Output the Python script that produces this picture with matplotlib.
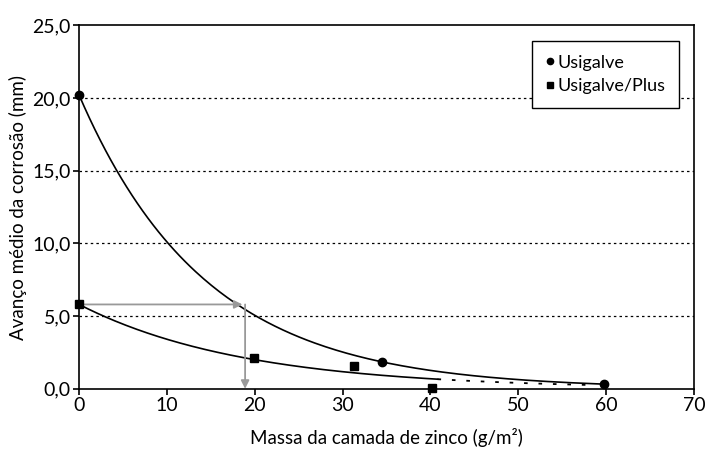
import numpy as np
import matplotlib.pyplot as plt

plt.rcParams['font.family'] = ['Lato', 'DejaVu Sans']

# pontos medidos
x_usigalve = [0, 34.5, 59.7]
y_usigalve = [20.2, 1.85, 0.32]
x_plus = [0, 19.9, 31.3, 40.2]
y_plus = [5.8, 2.1, 1.6, 0.05]

# linhas de tendência exponenciais (a * exp(-b x))
fit_usigalve = (20.2, 0.0693, 0, 60)
fit_plus = (5.8, 0.0532, 0, 40.8)
fit_plus_ext = (40.8, 58.5)  # extrapolação pontilhada

# setas de leitura (cinza)
seta_y = 5.8
seta_x = 18.9

xticks = [0, 10, 20, 30, 40, 50, 60, 70]
yticks = [0, 5, 10, 15, 20, 25]

fig = plt.figure(figsize=(7.06, 4.5), dpi=100)
ax = fig.add_axes([0.112, 0.136, 0.871, 0.808])

# grade horizontal pontilhada
for yv in yticks[1:-1]:
    ax.axhline(yv, color='black', linestyle=(0, (2, 2.5)), linewidth=0.9, zorder=1)

# curvas
a, b, x0, x1 = fit_usigalve
xs = np.linspace(x0, x1, 200)
ax.plot(xs, a * np.exp(-b * xs), color='black', linewidth=1.2, zorder=2)

a, b, x0, x1 = fit_plus
xs = np.linspace(x0, x1, 200)
ax.plot(xs, a * np.exp(-b * xs), color='black', linewidth=1.2, zorder=2)
xs = np.linspace(fit_plus_ext[0], fit_plus_ext[1], 100)
ax.plot(xs, a * np.exp(-b * xs), color='black', linewidth=1.3,
        linestyle=(0, (2, 6)), zorder=2)

# setas
ax.annotate('', xy=(seta_x - 0.3, seta_y), xytext=(0, seta_y),
            arrowprops=dict(arrowstyle='-|>', color='#999999', lw=1.3,
                            mutation_scale=12, shrinkA=0, shrinkB=0), zorder=3)
ax.annotate('', xy=(seta_x, 0), xytext=(seta_x, seta_y),
            arrowprops=dict(arrowstyle='-|>', color='#999999', lw=1.3,
                            mutation_scale=12, shrinkA=0, shrinkB=0), zorder=3)

# pontos
ax.plot(x_usigalve, y_usigalve, 'o', color='black', markersize=6,
        label='Usigalve', zorder=4, clip_on=False)
ax.plot(x_plus, y_plus, 's', color='black', markersize=6,
        label='Usigalve/Plus', zorder=4, clip_on=False)

ax.set_xlim(0, 70)
ax.set_ylim(0, 25)
ax.set_xticks(xticks)
ax.set_yticks(yticks)
ax.set_xticklabels([str(v) for v in xticks])
ax.set_yticklabels([f'{v:.1f}'.replace('.', ',') for v in yticks])
ax.tick_params(labelsize=14, length=4, width=1.2, direction='out', color='black', pad=2)
for s in ax.spines.values():
    s.set_linewidth(1.2)

ax.set_xlabel('Massa da camada de zinco (g/m²)', fontsize=13.5, labelpad=10)
ax.set_ylabel('Avanço médio da corrosão (mm)', fontsize=13.5, labelpad=4)

leg = ax.legend(loc='upper right', bbox_to_anchor=(0.976, 0.956), fontsize=13,
                frameon=True, fancybox=False, edgecolor='black', framealpha=1,
                handlelength=0.5, handletextpad=0.2, markerscale=0.75,
                borderpad=0.75, labelspacing=0.4, borderaxespad=0)
leg.get_frame().set_linewidth(1.0)

fig.savefig('out.png', dpi=100)
